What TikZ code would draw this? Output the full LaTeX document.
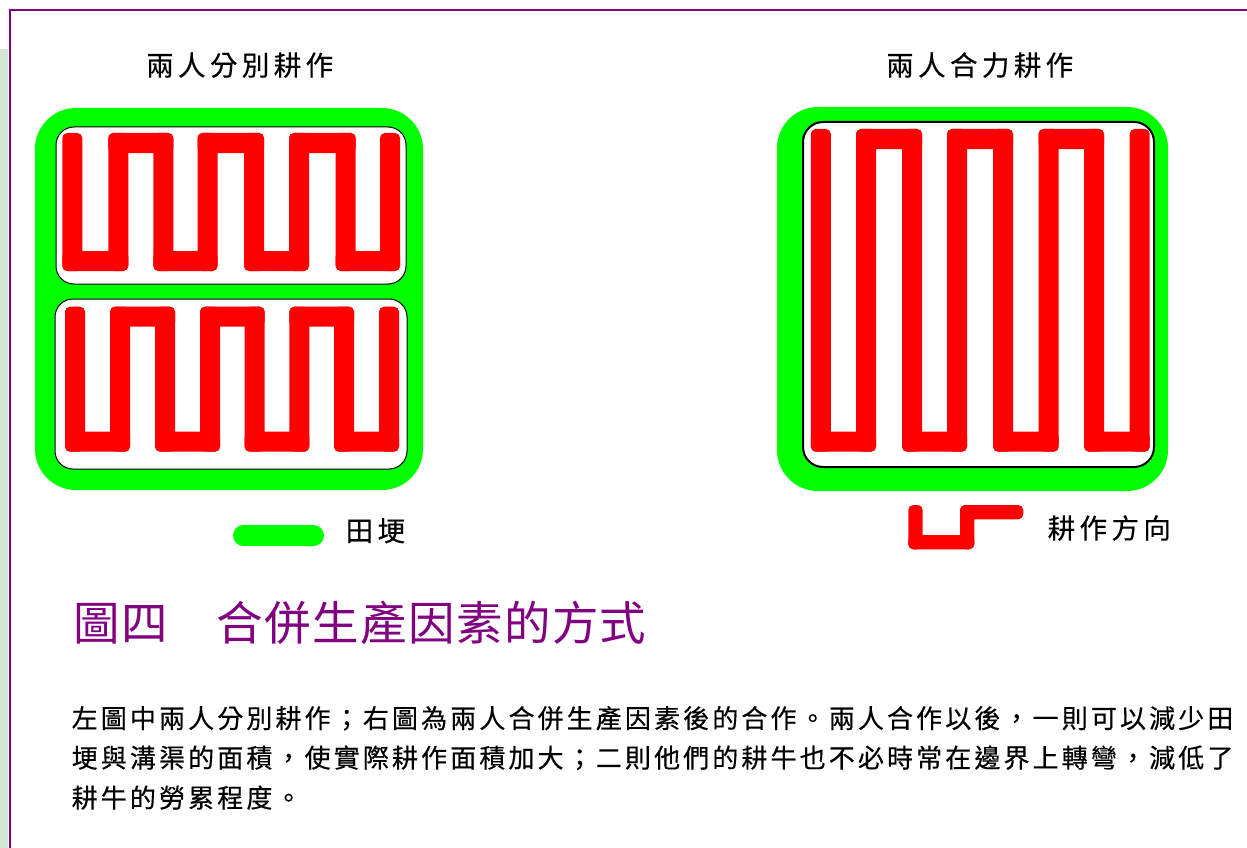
\documentclass[tikz,border=0pt]{standalone}
\usepackage{fontspec}
\newfontfamily\cjkpara[LetterSpace=12,FakeBold=0.4]{Noto Sans CJK TC}
\newfontfamily\cjktitle[LetterSpace=16,FakeBold=0.4]{Noto Sans CJK TC}
\newfontfamily\cjkcap[LetterSpace=3]{Noto Sans CJK TC}
\definecolor{fieldgreen}{HTML}{00FF00}
\definecolor{bandgreen}{HTML}{D0E6D0}
\definecolor{framepurple}{HTML}{800080}
\definecolor{plowred}{HTML}{FF0000}
\tikzset{
  ridge/.style={fill=fieldgreen, rounded corners=41},
  plot/.style={fill=white, draw=black, line width=1, rounded corners=18},
  furrow/.style={fill=plowred, rounded corners=5},
  title/.style={anchor=base west, inner sep=0, font=\cjktitle\fontsize{27.5pt}{30pt}\selectfont},
  para/.style={anchor=base west, inner sep=0, font=\cjkpara\fontsize{26pt}{30pt}\selectfont},
  caption/.style={anchor=base west, inner sep=0, text=framepurple, font=\cjkcap\fontsize{46.5pt}{50pt}\selectfont},
}
\begin{document}
\begin{tikzpicture}[x=1pt,y=-1pt]
\useasboundingbox (0,0) rectangle (1247,848);
% page frame
\fill[bandgreen] (0,49) rectangle (8,848);
\draw[framepurple, line width=2] (9,10) -- (1247,10);
\draw[framepurple, line width=2] (10,9) -- (10,848);

% titles
\node[title] (tl) at (146,75.5) {兩人分別耕作};
\node[title] (tr) at (886,75.5) {兩人合力耕作};

% left field
\fill[ridge] (35,108) rectangle (423,490);
\draw[plot] (56,127) rectangle (406,284);
\draw[plot] (55,299) rectangle (407,469);
% top-left furrows
\foreach \x in {72.3,118.3,163.3,207.5,254,299,345.7,390}
  \fill[furrow] (\x-10,133) rectangle (\x+10,271);
\foreach \a/\b in {72.3/118.3,163.3/207.5,254/299,345.7/390}
  \fill[furrow] (\a-10,251) rectangle (\b+10,271);
\foreach \a/\b in {118.3/163.3,207.5/254,299/345.7}
  \fill[furrow] (\a-10,133) rectangle (\b+10,153);
% bottom-left furrows
\foreach \x in {75,120,165,210,254.7,299.3,344,389}
  \fill[furrow] (\x-10,306.7) rectangle (\x+10,451.7);
\foreach \a/\b in {75/120,165/210,254.7/299.3,344/389}
  \fill[furrow] (\a-10,431.7) rectangle (\b+10,451.7);
\foreach \a/\b in {120/165,210/254.7,299.3/344}
  \fill[furrow] (\a-10,306.7) rectangle (\b+10,326.7);

% right field
\fill[ridge] (777,107) rectangle (1168,491);
\draw[plot, line width=2, rounded corners=20] (803,122) rectangle (1154,467);
\foreach \x in {820.8,866,912,957,1003,1048.5,1094,1139.7}
  \fill[furrow] (\x-10,129) rectangle (\x+10,451.7);
\foreach \a/\b in {820.8/866,912/957,1003/1048.5,1094/1139.7}
  \fill[furrow] (\a-10,431.7) rectangle (\b+10,451.7);
\foreach \a/\b in {866/912,957/1003,1048.5/1094}
  \fill[furrow] (\a-10,129) rectangle (\b+10,149);

% legends
\fill[fieldgreen, rounded corners=10.5] (233,525) rectangle (324,546);
\node[title] (lg) at (345.5,541) {田埂};
\fill[furrow] (908.3,505) rectangle (922.7,549.3);
\fill[furrow] (908.3,535) rectangle (974.3,549.3);
\fill[furrow] (960,505) rectangle (974.3,549.3);
\fill[furrow] (960,505) rectangle (1023.3,519.3);
\node[title] (ld) at (1047.5,538.5) {耕作方向};

% caption
\node[caption] (cap) at (73,640) {圖四　合併生產因素的方式};

% paragraph
\node[para] (p1) at (71.5,728) {左圖中兩人分別耕作；右圖為兩人合併生產因素後的合作。兩人合作以後，一則可以減少田};
\node[para] (p2) at (71.5,767.5) {埂與溝渠的面積，使實際耕作面積加大；二則他們的耕牛也不必時常在邊界上轉彎，減低了};
\node[para] (p3) at (71.5,807.5) {耕牛的勞累程度。};
\end{tikzpicture}
\end{document}
